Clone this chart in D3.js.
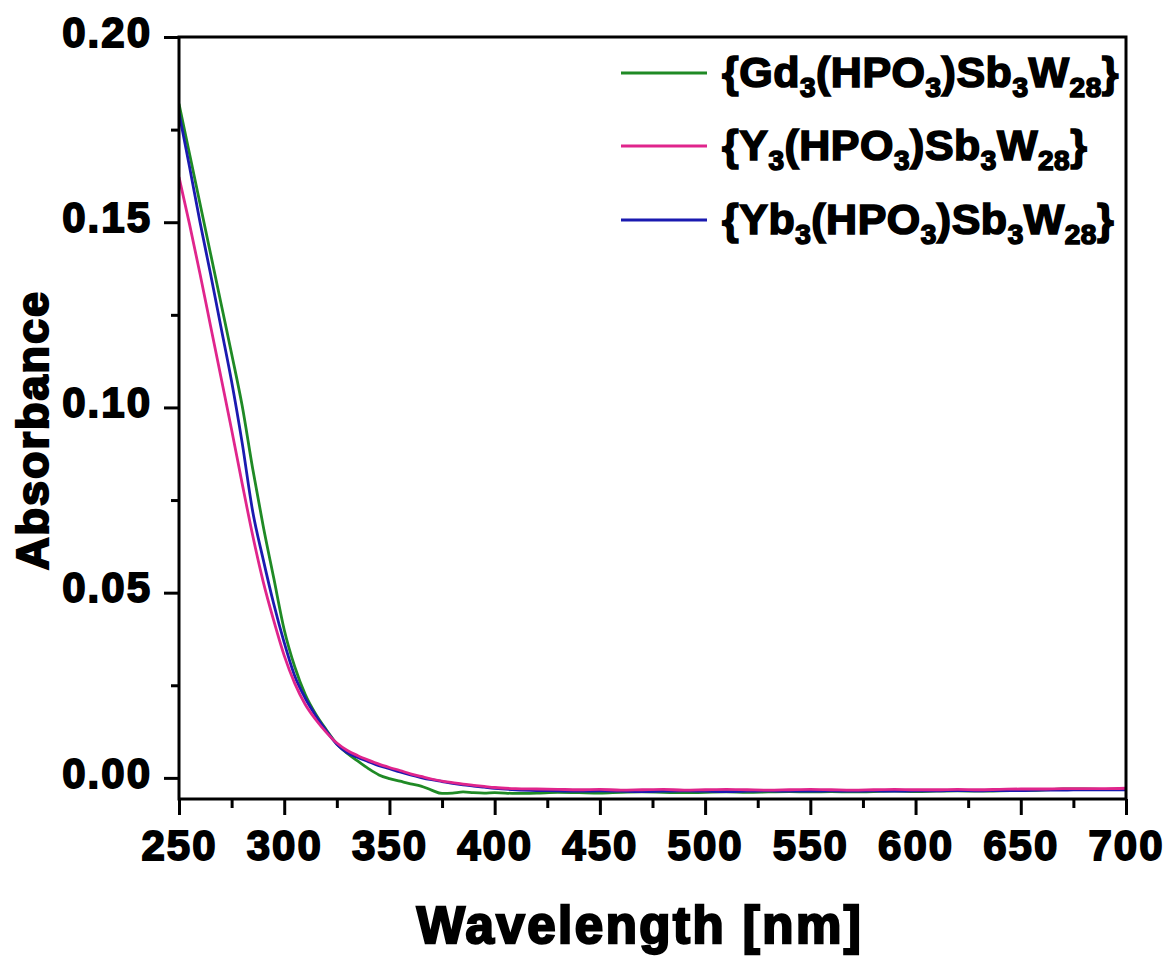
<!DOCTYPE html>
<html>
<head>
<meta charset="utf-8">
<script src="https://cdn.jsdelivr.net/npm/d3@7"></script>
<style>
  html, body { margin: 0; padding: 0; background: #fff; }
  svg { display: block; }
  text { font-family: "Liberation Sans", Arial, sans-serif; font-weight: bold; fill: #000; }
</style>
</head>
<body>
<svg id="chart" width="1169" height="956"></svg>
<script>
// Wavelength grid (nm): 5 nm steps across the absorption edge, 10 nm in the flat tail
const wavelengths = [
  250, 255, 260, 265, 270, 275, 280, 285, 290, 295,
  300, 305, 310, 315, 320, 325, 330, 335, 340, 345,
  350, 355, 360, 365, 370, 375, 380, 385, 390, 395,
  400, 410, 420, 430, 440, 450, 460, 470, 480, 490,
  500, 510, 520, 530, 540, 550, 560, 570, 580, 590,
  600, 610, 620, 630, 640, 650, 660, 670, 680, 690, 700
];

const absGd = [
  0.1820, 0.1685, 0.1550, 0.1415, 0.1280, 0.1145, 0.1005, 0.0835, 0.0680, 0.0540,
  0.0400, 0.0300, 0.0225, 0.0172, 0.0130, 0.0092, 0.0066, 0.0045, 0.0025, 0.0008,
  -0.0002, -0.0009, -0.0016, -0.0022, -0.0033, -0.0042, -0.0041, -0.0038, -0.0040, -0.0041,
  -0.0040, -0.0042, -0.0041, -0.0039, -0.0040, -0.0041, -0.0039, -0.0038, -0.0039, -0.0040,
  -0.0039, -0.0038, -0.0039, -0.0038, -0.0037, -0.0038, -0.0037, -0.0038, -0.0037, -0.0036,
  -0.0037, -0.0036, -0.0035, -0.0036, -0.0035, -0.0034, -0.0033, -0.0030, -0.0030, -0.0031, -0.0030
];

const absY = [
  0.1622, 0.1495, 0.1360, 0.1220, 0.1080, 0.0940, 0.0795, 0.0655, 0.0530, 0.0425,
  0.0330, 0.0255, 0.0198, 0.0157, 0.0123, 0.0094, 0.0074, 0.0060, 0.0048, 0.0037,
  0.0028, 0.0020, 0.0011, 0.0004, -0.0003, -0.0009, -0.0013, -0.0017, -0.0020, -0.0023,
  -0.0026, -0.0029, -0.0030, -0.0031, -0.0032, -0.0031, -0.0033, -0.0032, -0.0031, -0.0033,
  -0.0032, -0.0031, -0.0032, -0.0033, -0.0032, -0.0031, -0.0032, -0.0033, -0.0032, -0.0031,
  -0.0032, -0.0032, -0.0031, -0.0032, -0.0031, -0.0030, -0.0030, -0.0029, -0.0029, -0.0029, -0.0028
];

const absYb = [
  0.1795, 0.1650, 0.1500, 0.1360, 0.1215, 0.1070, 0.0905, 0.0720, 0.0590, 0.0470,
  0.0365, 0.0275, 0.0215, 0.0168, 0.0127, 0.0091, 0.0068, 0.0055, 0.0044, 0.0033,
  0.0025, 0.0016, 0.0008, 0.0001, -0.0005, -0.0010, -0.0015, -0.0019, -0.0022, -0.0025,
  -0.0028, -0.0032, -0.0034, -0.0035, -0.0036, -0.0035, -0.0036, -0.0037, -0.0036, -0.0035,
  -0.0036, -0.0037, -0.0036, -0.0035, -0.0036, -0.0036, -0.0035, -0.0036, -0.0035, -0.0036,
  -0.0035, -0.0035, -0.0034, -0.0035, -0.0034, -0.0034, -0.0033, -0.0033, -0.0032, -0.0032, -0.0032
];

// Legend entries: [text piece, "sub" for subscript]
const seriesNames = [
  [["{Gd", ""], ["3", "sub"], ["(HPO", ""], ["3", "sub"], [")Sb", ""], ["3", "sub"], ["W", ""], ["28", "sub"], ["}", ""]],
  [["{Y", ""], ["3", "sub"], ["(HPO", ""], ["3", "sub"], [")Sb", ""], ["3", "sub"], ["W", ""], ["28", "sub"], ["}", ""]],
  [["{Yb", ""], ["3", "sub"], ["(HPO", ""], ["3", "sub"], [")Sb", ""], ["3", "sub"], ["W", ""], ["28", "sub"], ["}", ""]]
];
const seriesColors = ["#1f8a25", "#e0258c", "#1a1ab0"];

const xTicks = [250, 300, 350, 400, 450, 500, 550, 600, 650, 700];
const xMinorTicks = [275, 325, 375, 425, 475, 525, 575, 625, 675];
const yTicks = [0.00, 0.05, 0.10, 0.15, 0.20];
const yMinorTicks = [0.025, 0.075, 0.125, 0.175];

const xDomain = [250, 700];
const yDomain = [-0.0057, 0.20];

const svg = d3.select("#chart");
const plot = { left: 179, right: 1126, top: 37, bottom: 799 };

const x = d3.scaleLinear().domain(xDomain).range([plot.left, plot.right]);
const y = d3.scaleLinear().domain(yDomain).range([plot.bottom, plot.top]);

// Curves (drawn first, frame on top)
const series = [
  { values: absGd, color: seriesColors[0] },
  { values: absYb, color: seriesColors[2] },
  { values: absY, color: seriesColors[1] }
];
const line = d3.line()
  .x((d, i) => x(wavelengths[i]))
  .y(d => y(d))
  .curve(d3.curveMonotoneX);

const clipId = "plot-clip";
svg.append("clipPath").attr("id", clipId)
  .append("rect")
  .attr("x", plot.left).attr("y", plot.top)
  .attr("width", plot.right - plot.left).attr("height", plot.bottom - plot.top);

svg.append("g").attr("clip-path", `url(#${clipId})`)
  .selectAll("path")
  .data(series)
  .join("path")
  .attr("fill", "none")
  .attr("stroke", d => d.color)
  .attr("stroke-width", 2.8)
  .attr("stroke-linejoin", "round")
  .attr("d", d => line(d.values));

// Axes
const tickStroke = 3;
const xAxis = svg.append("g").attr("transform", `translate(0,${plot.bottom})`)
  .call(d3.axisBottom(x).tickValues(xTicks).tickSize(16).tickSizeOuter(0).tickPadding(14).tickFormat(d3.format("d")));
const xMinor = svg.append("g").attr("transform", `translate(0,${plot.bottom})`)
  .call(d3.axisBottom(x).tickValues(xMinorTicks).tickSize(9).tickSizeOuter(0).tickFormat(""));
const yAxis = svg.append("g").attr("transform", `translate(${plot.left},0)`)
  .call(d3.axisLeft(y).tickValues(yTicks).tickSize(15).tickSizeOuter(0).tickPadding(12).tickFormat(d3.format(".2f")));
const yMinor = svg.append("g").attr("transform", `translate(${plot.left},0)`)
  .call(d3.axisLeft(y).tickValues(yMinorTicks).tickSize(8).tickSizeOuter(0).tickFormat(""));

[xAxis, xMinor, yAxis, yMinor].forEach(g => {
  g.select(".domain").remove();
  g.selectAll(".tick line").attr("stroke", "#000").attr("stroke-width", tickStroke);
});

xAxis.selectAll(".tick text")
  .attr("font-size", 42)
  .attr("letter-spacing", 2)
  .attr("stroke", "#000").attr("stroke-width", 1.8)
  .attr("dy", "0.74em");

yAxis.selectAll(".tick text")
  .attr("font-size", 42)
  .attr("letter-spacing", 2)
  .attr("stroke", "#000").attr("stroke-width", 1.8)
  .attr("dy", "0.22em");

// Frame
svg.append("rect")
  .attr("x", plot.left).attr("y", plot.top)
  .attr("width", plot.right - plot.left).attr("height", plot.bottom - plot.top)
  .attr("fill", "none").attr("stroke", "#000").attr("stroke-width", 3);

// Axis titles
svg.append("text")
  .attr("x", 640)
  .attr("y", 943)
  .attr("text-anchor", "middle")
  .attr("font-size", 51)
  .attr("letter-spacing", 2.5)
  .attr("stroke", "#000").attr("stroke-width", 2.4)
  .text("Wavelength [nm]");

svg.append("text")
  .attr("transform", `translate(48,${(plot.top + plot.bottom) / 2 + 12}) rotate(-90)`)
  .attr("text-anchor", "middle")
  .attr("font-size", 45)
  .attr("letter-spacing", 2)
  .attr("stroke", "#000").attr("stroke-width", 2.2)
  .text("Absorbance");

// Legend
const legendRows = [73, 146, 220];
const legend = svg.append("g");
seriesNames.forEach((parts, i) => {
  const row = legend.append("g");
  row.append("line")
    .attr("x1", 621).attr("x2", 707)
    .attr("y1", legendRows[i]).attr("y2", legendRows[i])
    .attr("stroke", seriesColors[i]).attr("stroke-width", 2.8);
  const t = row.append("text")
    .attr("x", 722).attr("y", legendRows[i] + 14)
    .attr("font-size", 43)
    .attr("letter-spacing", 0.5)
    .attr("stroke", "#000").attr("stroke-width", 1.6);
  parts.forEach(([s, kind], j) => {
    const prevSub = j > 0 && parts[j - 1][1] === "sub";
    const span = t.append("tspan").text(s);
    if (kind === "sub") span.attr("font-size", 28).attr("dy", 10);
    else if (prevSub) span.attr("dy", -10);
  });
});
</script>
</body>
</html>
